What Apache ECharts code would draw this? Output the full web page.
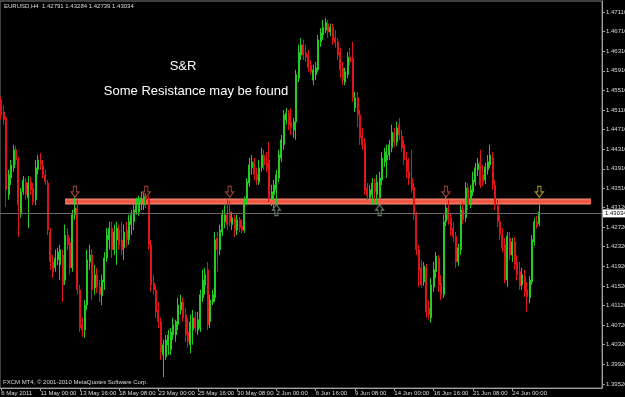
<!DOCTYPE html>
<html><head><meta charset="utf-8">
<script src="https://cdn.jsdelivr.net/npm/echarts@6/dist/echarts.min.js"></script>
<style>html,body{margin:0;padding:0;background:#000;}#c{width:625px;height:397px;}</style>
</head><body><div id="c"></div>
<script>
// H4 candles, EURUSD, 6 May 2011 08:00 onward (open, close, low, high)
const openP = [
1.4532,1.4507,1.4495,1.4338,1.4372,1.4393,1.4430,1.4409,1.4301,1.4344,
1.4364,1.4332,1.4364,1.4352,1.4328,1.4389,1.4409,1.4399,1.4379,1.4362,
1.4262,1.4201,1.4189,1.4205,1.4195,1.4215,1.4164,1.4256,1.4240,1.4189,
1.4297,1.4311,1.4144,1.4073,1.4062,1.4113,1.4201,1.4215,1.4148,1.4175,
1.4150,1.4132,1.4160,1.4209,1.4246,1.4270,1.4226,1.4246,1.4266,1.4246,
1.4230,1.4266,1.4246,1.4277,1.4283,1.4303,1.4303,1.4321,1.4317,1.4332,
1.4328,1.4236,1.4158,1.4144,1.4103,1.4079,1.4011,1.4007,1.4032,1.4022,
1.4052,1.4052,1.4073,1.4103,1.4119,1.4093,1.4058,1.4032,1.4062,1.4087,
1.4062,1.4066,1.4128,1.4154,1.4185,1.4079,1.4119,1.4128,1.4250,1.4226,
1.4262,1.4283,1.4297,1.4303,1.4277,1.4291,1.4266,1.4287,1.4274,1.4266,
1.4323,1.4362,1.4393,1.4405,1.4379,1.4364,1.4393,1.4419,1.4403,1.4409,
1.4328,1.4338,1.4348,1.4372,1.4413,1.4440,1.4491,1.4505,1.4487,1.4470,
1.4487,1.4576,1.4623,1.4644,1.4627,1.4623,1.4603,1.4572,1.4583,1.4593,
1.4650,1.4664,1.4674,1.4687,1.4670,1.4680,1.4658,1.4650,1.4629,1.4597,
1.4568,1.4583,1.4619,1.4617,1.4515,1.4536,1.4501,1.4458,1.4444,1.4352,
1.4332,1.4338,1.4362,1.4338,1.4332,1.4368,1.4405,1.4409,1.4419,1.4434,
1.4464,1.4446,1.4481,1.4458,1.4440,1.4409,1.4385,1.4372,1.4354,1.4297,
1.4226,1.4189,1.4160,1.4189,1.4107,1.4087,1.4150,1.4181,1.4209,1.4158,
1.4134,1.4283,1.4311,1.4291,1.4270,1.4254,1.4201,1.4226,1.4307,1.4291,
1.4352,1.4317,1.4344,1.4364,1.4389,1.4405,1.4379,1.4368,1.4389,1.4399,
1.4413,1.4358,1.4317,1.4283,1.4256,1.4236,1.4164,1.4250,1.4215,1.4242,
1.4201,1.4181,1.4154,1.4172,1.4144,1.4128,1.4160,1.4242,1.4283,1.42791];
const closeP = [
1.4501,1.4491,1.4348,1.4379,1.4399,1.4430,1.4409,1.4317,1.4344,1.4368,
1.4338,1.4362,1.4348,1.4323,1.4393,1.4409,1.4399,1.4379,1.4364,1.4266,
1.4201,1.4181,1.4209,1.4221,1.4226,1.4154,1.4256,1.4236,1.4189,1.4297,
1.4311,1.4144,1.4066,1.4062,1.4113,1.4205,1.4215,1.4144,1.4175,1.4150,
1.4134,1.4164,1.4209,1.4256,1.4270,1.4226,1.4262,1.4270,1.4236,1.4226,
1.4262,1.4246,1.4283,1.4297,1.4307,1.4317,1.4328,1.4332,1.4334,1.4328,
1.4236,1.4154,1.4144,1.4099,1.4079,1.4017,1.4032,1.4042,1.4052,1.4058,
1.4073,1.4079,1.4113,1.4119,1.4087,1.4052,1.4038,1.4079,1.4087,1.4066,
1.4083,1.4134,1.4164,1.4175,1.4073,1.4123,1.4134,1.4246,1.4226,1.4266,
1.4297,1.4297,1.4277,1.4283,1.4291,1.4266,1.4287,1.4270,1.4264,1.4328,
1.4364,1.4399,1.4405,1.4379,1.4368,1.4393,1.4419,1.4399,1.4393,1.4332,
1.4344,1.4358,1.4379,1.4419,1.4450,1.4501,1.4505,1.4481,1.4474,1.4487,
1.4583,1.4629,1.4644,1.4623,1.4619,1.4597,1.4589,1.4593,1.4597,1.4654,
1.4668,1.4680,1.4689,1.4670,1.4680,1.4654,1.4648,1.4623,1.4593,1.4572,
1.4589,1.4619,1.4609,1.4536,1.4536,1.4501,1.4454,1.4440,1.4348,1.4336,
1.4348,1.4362,1.4344,1.4364,1.4372,1.4413,1.4425,1.4419,1.4440,1.4466,
1.4446,1.4474,1.4460,1.4434,1.4409,1.4385,1.4372,1.4348,1.4297,1.4226,
1.4185,1.4154,1.4193,1.4099,1.4093,1.4154,1.4185,1.4213,1.4154,1.4134,
1.4283,1.4311,1.4287,1.4266,1.4252,1.4201,1.4230,1.4307,1.4287,1.4352,
1.4317,1.4348,1.4368,1.4393,1.4401,1.4358,1.4364,1.4395,1.4405,1.4419,
1.4358,1.4317,1.4283,1.4256,1.4230,1.4164,1.4254,1.4215,1.4242,1.4195,
1.4175,1.4152,1.4175,1.4140,1.4130,1.4164,1.4246,1.4283,1.4274,1.43034];
const lowP = [
1.4491,1.4481,1.4313,1.4328,1.4358,1.4385,1.4399,1.4252,1.4291,1.4338,
1.4328,1.4270,1.4338,1.4317,1.4317,1.4379,1.4389,1.4372,1.4358,1.4256,
1.4185,1.4168,1.4181,1.4195,1.4164,1.4119,1.4154,1.4226,1.4175,1.4181,
1.4287,1.4134,1.4058,1.4048,1.4046,1.4103,1.4185,1.4123,1.4134,1.4138,
1.4119,1.4113,1.4144,1.4201,1.4226,1.4209,1.4215,1.4195,1.4226,1.4215,
1.4205,1.4232,1.4236,1.4256,1.4266,1.4297,1.4295,1.4307,1.4307,1.4311,
1.4226,1.4140,1.4134,1.4087,1.4066,1.4001,1.3966,1.4001,1.4011,1.4011,
1.4042,1.4038,1.4062,1.4093,1.4079,1.4038,1.4026,1.4015,1.4032,1.4058,
1.4052,1.4058,1.4119,1.4134,1.4062,1.4066,1.4113,1.4119,1.4181,1.4215,
1.4254,1.4270,1.4266,1.4274,1.4266,1.4252,1.4256,1.4262,1.4260,1.4260,
1.4317,1.4354,1.4379,1.4368,1.4358,1.4358,1.4385,1.4389,1.4385,1.4323,
1.4315,1.4311,1.4317,1.4364,1.4405,1.4430,1.4481,1.4470,1.4460,1.4454,
1.4450,1.4568,1.4613,1.4613,1.4609,1.4589,1.4583,1.4562,1.4572,1.4589,
1.4640,1.4654,1.4668,1.4658,1.4662,1.4644,1.4638,1.4613,1.4576,1.4562,
1.4562,1.4576,1.4603,1.4527,1.4507,1.4476,1.4440,1.4430,1.4338,1.4328,
1.4317,1.4317,1.4328,1.4317,1.4315,1.4358,1.4395,1.4372,1.4409,1.4425,
1.4436,1.4438,1.4450,1.4425,1.4399,1.4372,1.4358,1.4342,1.4287,1.4215,
1.4150,1.4148,1.4152,1.4087,1.4083,1.4077,1.4140,1.4168,1.4140,1.4123,
1.4128,1.4274,1.4277,1.4254,1.4242,1.4189,1.4193,1.4215,1.4279,1.4283,
1.4307,1.4311,1.4336,1.4356,1.4376,1.4352,1.4356,1.4360,1.4379,1.4393,
1.4348,1.4307,1.4272,1.4246,1.4221,1.4158,1.4150,1.4205,1.4201,1.4185,
1.4164,1.4144,1.4144,1.4130,1.4099,1.4117,1.4154,1.4234,1.4268,1.42739];
const highP = [
1.4538,1.4521,1.4499,1.4389,1.4409,1.4440,1.4438,1.4415,1.4352,1.4376,
1.4372,1.4376,1.4374,1.4362,1.4409,1.4419,1.4423,1.4409,1.4389,1.4368,
1.4270,1.4215,1.4226,1.4230,1.4236,1.4226,1.4277,1.4270,1.4250,1.4307,
1.4336,1.4328,1.4154,1.4087,1.4123,1.4226,1.4236,1.4226,1.4195,1.4189,
1.4164,1.4175,1.4221,1.4270,1.4283,1.4283,1.4277,1.4283,1.4277,1.4283,
1.4277,1.4283,1.4297,1.4307,1.4321,1.4332,1.4336,1.4344,1.4342,1.4342,
1.4336,1.4246,1.4175,1.4154,1.4119,1.4087,1.4042,1.4052,1.4062,1.4066,
1.4087,1.4083,1.4128,1.4134,1.4128,1.4107,1.4087,1.4093,1.4103,1.4099,
1.4099,1.4144,1.4185,1.4189,1.4201,1.4134,1.4144,1.4262,1.4262,1.4277,
1.4307,1.4317,1.4328,1.4326,1.4303,1.4297,1.4297,1.4293,1.4287,1.4334,
1.4372,1.4413,1.4419,1.4413,1.4393,1.4409,1.4434,1.4430,1.4425,1.4446,
1.4358,1.4368,1.4389,1.4430,1.4460,1.4511,1.4515,1.4511,1.4515,1.4495,
1.4593,1.4644,1.4658,1.4654,1.4644,1.4634,1.4613,1.4603,1.4609,1.4664,
1.4678,1.4695,1.4699,1.4695,1.4687,1.4687,1.4674,1.4658,1.4638,1.4609,
1.4597,1.4629,1.4638,1.4650,1.4548,1.4548,1.4511,1.4474,1.4454,1.4362,
1.4358,1.4372,1.4372,1.4379,1.4385,1.4425,1.4434,1.4440,1.4450,1.4481,
1.4474,1.4487,1.4495,1.4470,1.4450,1.4425,1.4413,1.4430,1.4362,1.4303,
1.4236,1.4205,1.4201,1.4197,1.4123,1.4168,1.4201,1.4221,1.4215,1.4175,
1.4297,1.4336,1.4328,1.4299,1.4283,1.4262,1.4238,1.4317,1.4323,1.4364,
1.4362,1.4358,1.4385,1.4403,1.4413,1.4430,1.4399,1.4403,1.4419,1.4440,
1.4425,1.4368,1.4328,1.4297,1.4270,1.4250,1.4262,1.4262,1.4250,1.4252,
1.4215,1.4201,1.4189,1.4185,1.4160,1.4172,1.4256,1.4291,1.4295,1.43284];

// axis text
const xTickLabels = ['6 May 2011','11 May 00:00','13 May 16:00','18 May 08:00','23 May 00:00','25 May 16:00',
  '30 May 08:00','2 Jun 00:00','6 Jun 16:00','9 Jun 08:00','14 Jun 00:00','16 Jun 16:00','21 Jun 08:00','24 Jun 00:00'];
const barsPerLabel = 16;
const slotCount = 245; // bars + chart shift space
const yTickValues = [1.3952,1.3992,1.4032,1.4072,1.4112,1.4152,1.4192,1.4232,1.4272,1.4312,
  1.4351,1.4391,1.4431,1.4471,1.4511,1.4551,1.4591,1.4631,1.4671,1.4711];
const yMin = 1.39437, yMax = 1.47334;

// annotations
const currentPrice = 1.43034;
const bandMid = 1.43245;
const bandFromBar = 26, bandToBar = 240;
const downArrowBars = [30, 59, 93, 181];
const yellowArrowBars = [219];
const upArrowBars = [112, 154];
const downArrowPrice = 1.4344, upArrowPrice = 1.4307;

const symbolName = 'EURUSD,H4';
const titleTexts = ['S&R', 'Some Resistance may be found'];
const copyright = 'FXCM MT4, \u00a9 2001-2010 MetaQuotes Software Corp.';

const cats = Array.from({length: slotCount}, (_, i) => String(i));
const candles = openP.map((o, i) => [o, closeP[i], lowP[i], highP[i]]);
const last = openP.length - 1;
const header = symbolName + '  ' + [openP[last], highP[last], lowP[last], closeP[last]].map(v => v.toFixed(5)).join(' ');

const smallFont = "'Liberation Sans',Arial,sans-serif";
const showTick = (i) => i % barsPerLabel === 0 && i / barsPerLabel < xTickLabels.length;
const downPath = 'path://M3,0 L7,0 L7,6 L10,6 L5,12 L0,6 L3,6 Z';
const upPath = 'path://M5,0 L10,6 L7,6 L7,12 L3,12 L3,6 L0,6 Z';
const arrowSeries = (bars, price, color, path) => ({
  type: 'scatter', z: 4, symbol: path, symbolSize: [8, 11], silent: true,
  data: bars.map(b => [b, price]),
  itemStyle: {color: 'rgba(0,0,0,0)', borderColor: color, borderWidth: 1.2}
});

const chart = echarts.init(document.getElementById('c'), null, {renderer: 'canvas', width: 625, height: 397});
chart.setOption({
  backgroundColor: '#000000',
  animation: false,
  grid: {left: 0, right: 23, top: 1, bottom: 9, show: true, borderColor: '#808080', borderWidth: 1,
         containLabel: false, outerBoundsMode: 'none'},
  xAxis: {
    type: 'category', data: cats, boundaryGap: true,
    axisLine: {show: true, lineStyle: {color: '#a0a0a0'}},
    axisTick: {show: true, interval: showTick, alignWithLabel: true, length: 3, lineStyle: {color: '#a0a0a0'}},
    axisLabel: {interval: showTick, formatter: (v, i) => xTickLabels[i / barsPerLabel], align: 'left',
      color: '#dcdcdc', fontSize: 6, fontFamily: smallFont, margin: 2},
    splitLine: {show: false}
  },
  yAxis: {
    type: 'value', position: 'right', min: yMin, max: yMax,
    axisLine: {show: true, lineStyle: {color: '#a0a0a0'}},
    axisTick: {show: true, customValues: yTickValues, length: 3, lineStyle: {color: '#a0a0a0'}},
    axisLabel: {customValues: yTickValues, formatter: v => v.toFixed(5), color: '#dcdcdc',
      fontSize: 6, fontFamily: smallFont, margin: 4},
    splitLine: {show: false}
  },
  series: [
    {type: 'line', z: 1, silent: true, showSymbol: false, symbol: 'none',
     data: [[bandFromBar, bandMid], [bandToBar, bandMid]],
     lineStyle: {color: '#f5907e', width: 6}},
    {type: 'line', z: 1, silent: true, showSymbol: false, symbol: 'none',
     data: [[bandFromBar, bandMid], [bandToBar, bandMid]],
     lineStyle: {color: '#ee5a45', width: 4}},
    {type: 'candlestick', z: 3, data: candles, barWidth: 1.5,
     itemStyle: {color: '#22cc22', color0: '#e01414', borderColor: '#22cc22', borderColor0: '#e01414', borderWidth: 1},
     markLine: {silent: true, symbol: ['none', 'none'], animation: false,
       data: [{yAxis: currentPrice}],
       lineStyle: {color: '#6a6a6a', type: 'solid', width: 1},
       label: {show: true, position: 'end', formatter: currentPrice.toFixed(5), backgroundColor: '#ffffff',
         color: '#000000', fontSize: 6, fontFamily: smallFont, padding: [1, 2, 1, 2], distance: 1}}},
    arrowSeries(downArrowBars, downArrowPrice, '#b84c3a', downPath),
    arrowSeries(yellowArrowBars, downArrowPrice, '#c8b420', downPath),
    arrowSeries(upArrowBars, upArrowPrice, '#7d947d', upPath)
  ],
  graphic: [
    {type: 'text', x: 4, y: 6.5, style: {text: header, fill: '#dcdcdc', font: '6px ' + smallFont, textVerticalAlign: 'middle'}},
    {type: 'text', x: 3, y: 382, style: {text: copyright, fill: '#dcdcdc', font: '6px ' + smallFont, textVerticalAlign: 'middle'}},
    {type: 'text', x: 183, y: 66, style: {text: titleTexts[0], fill: '#ffffff', font: '13px "Liberation Sans", Arial, sans-serif', textAlign: 'center', textVerticalAlign: 'middle'}},
    {type: 'text', x: 196, y: 91, style: {text: titleTexts[1], fill: '#ffffff', font: '13px "Liberation Sans", Arial, sans-serif', textAlign: 'center', textVerticalAlign: 'middle'}}
  ]
});
</script></body></html>
